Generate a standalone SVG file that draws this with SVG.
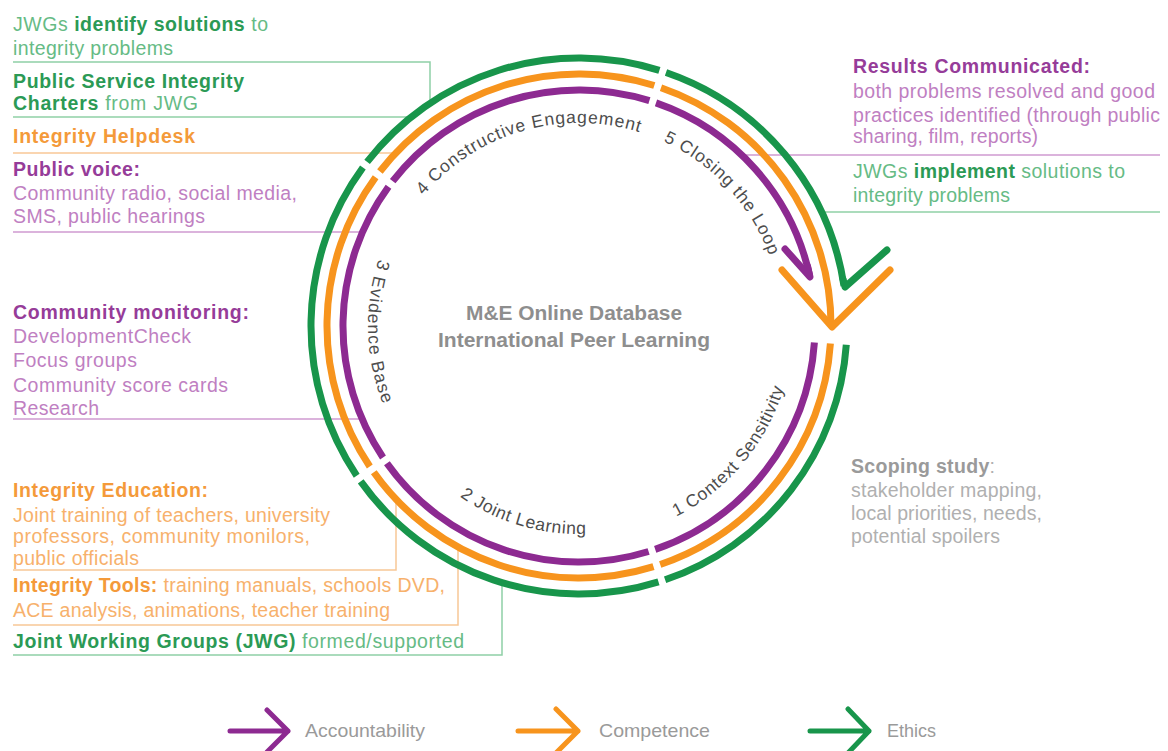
<svg xmlns="http://www.w3.org/2000/svg" width="1168" height="751" viewBox="0 0 1168 751">
<style>
.t{font-family:"Liberation Sans",Arial,sans-serif;font-size:19.5px}
.b{font-weight:bold}
.gn{fill:#66bb85}.gb{fill:#2b9a55}
.on{fill:#f7b16c}.ob{fill:#f49a3a}
.pn{fill:#c07fc2}.pb{fill:#963c99}
.yn{fill:#b0b0b0}.yb{fill:#9a9a9a}
.ring{fill:none;stroke-width:7}
.P{stroke:#8d2a91}.O{stroke:#f7941d}.G{stroke:#18954b}
.head{fill:none;stroke-width:7;stroke-linecap:round;stroke-linejoin:round}
.lead{fill:none;stroke-width:1.5}
.lg{stroke:#8fd0a6}.lo{stroke:#f8c796}.lp{stroke:#cf9ad1}
.arc{font-family:"Liberation Sans",Arial,sans-serif;font-size:17.5px;fill:#4d4d4d}
.ctr{font-family:"Liberation Sans",Arial,sans-serif;font-size:20px;font-weight:bold;fill:#8e8e8e}
.leg{font-family:"Liberation Sans",Arial,sans-serif;font-size:19px;fill:#9a9a9a}
.la{fill:none;stroke-width:5;stroke-linecap:round;stroke-linejoin:round}
</style>
<defs>
<path id="p4" d="M423.5,195.5 A203,203 0 0 1 645.1,134.1"/>
<path id="p5" d="M663.2,141.3 A203,203 0 0 1 772.1,263.3"/>
<path id="p3" d="M378.9,259.0 A211,211 0 0 0 386.2,411.8"/>
<path id="p2" d="M459.7,496.4 A208,208 0 0 0 593.5,533.5"/>
<path id="p1" d="M676.2,516.7 A214,214 0 0 0 785.7,381.4"/>
</defs>

<g id="connectors">
<path class="lead lg" d="M13,62 H430 V104"/>
<path class="lead lg" d="M13,117 H412"/>
<path class="lead lo" d="M13,153 H396"/>
<path class="lead lp" d="M13,232 H363"/>
<path class="lead lp" d="M13,419 H362"/>
<path class="lead lo" d="M13,570 H396 V499"/>
<path class="lead lo" d="M13,625 H458 V547"/>
<path class="lead lg" d="M13,655 H502 V583"/>
<path class="lead lp" d="M742,155 H1160"/>
<path class="lead lg" d="M822,212 H1160"/>
</g>

<g id="ring-ethics">
<path class="ring G" d="M666.0,72.5 A268,268 0 0 1 844.0,285.9"/>
<path class="ring G" d="M846.3,344.7 A268,268 0 0 1 665.1,579.8"/>
<path class="ring G" d="M658.5,581.9 A268,268 0 0 1 360.7,481.4"/>
<path class="ring G" d="M356.7,475.7 A268,268 0 0 1 362.9,167.5"/>
<path class="ring G" d="M367.1,161.9 A268,268 0 0 1 659.4,70.3"/>
<path class="head G" d="M887,250 L845,287 L843,279"/>
</g>
<g id="ring-competence">
<path class="ring O" d="M661.0,87.7 A252,252 0 0 1 831,326"/>
<path class="ring O" d="M830.4,343.6 A252,252 0 0 1 660.2,564.5"/>
<path class="ring O" d="M653.5,566.7 A252,252 0 0 1 373.8,472.3"/>
<path class="ring O" d="M369.8,466.5 A252,252 0 0 1 375.6,177.2"/>
<path class="ring O" d="M379.9,171.5 A252,252 0 0 1 654.3,85.5"/>
<path class="head O" d="M782,270 L832,327 L890,270"/>
</g>
<g id="ring-accountability">
<path class="ring P" d="M656.0,102.9 A236,236 0 0 1 809.7,276.1"/>
<path class="ring P" d="M814.4,342.5 A236,236 0 0 1 655.2,549.4"/>
<path class="ring P" d="M648.6,551.5 A236,236 0 0 1 386.9,463.2"/>
<path class="ring P" d="M383.0,457.5 A236,236 0 0 1 388.5,186.7"/>
<path class="ring P" d="M392.7,181.2 A236,236 0 0 1 649.4,100.7"/>
<path class="head P" d="M785,249 L810,277 L807.5,266"/>
</g>

<g id="stage-labels">
<text class="arc"><textPath href="#p4" textLength="238" lengthAdjust="spacing">4 Constructive Engagement</textPath></text>
<text class="arc"><textPath href="#p5" textLength="160" lengthAdjust="spacing">5 Closing the Loop</textPath></text>
<text class="arc"><textPath href="#p3" textLength="148" lengthAdjust="spacing">3 Evidence Base</textPath></text>
<text class="arc"><textPath href="#p2" textLength="134" lengthAdjust="spacing">2 Joint Learning</textPath></text>
<text class="arc"><textPath href="#p1" textLength="172" lengthAdjust="spacing">1 Context Sensitivity</textPath></text>
</g>

<g id="center">
<text class="ctr" x="574" y="320" text-anchor="middle" textLength="216" lengthAdjust="spacingAndGlyphs">M&amp;E Online Database</text>
<text class="ctr" x="574" y="347" text-anchor="middle" textLength="272" lengthAdjust="spacingAndGlyphs">International Peer Learning</text>
</g>

<g id="jwg-identify">
<text class="t gn" x="13" y="31" textLength="255">JWGs <tspan class="b gb">identify solutions</tspan> to</text>
<text class="t gn" x="13" y="55" textLength="160">integrity problems</text>
</g>
<g id="charters">
<text class="t b gb" x="13" y="88" textLength="231">Public Service Integrity</text>
<text class="t gn" x="13" y="110" textLength="185"><tspan class="b gb">Charters</tspan> from JWG</text>
</g>
<g id="helpdesk">
<text class="t b ob" x="13" y="143" textLength="182">Integrity Helpdesk</text>
</g>
<g id="public-voice">
<text class="t b pb" x="13" y="176" textLength="127">Public voice:</text>
<text class="t pn" x="13" y="200" textLength="284">Community radio, social media,</text>
<text class="t pn" x="13" y="223" textLength="192">SMS, public hearings</text>
</g>
<g id="community-monitoring">
<text class="t b pb" x="13" y="319" textLength="236">Community monitoring:</text>
<text class="t pn" x="13" y="343" textLength="178">DevelopmentCheck</text>
<text class="t pn" x="13" y="367" textLength="124">Focus groups</text>
<text class="t pn" x="13" y="392" textLength="215">Community score cards</text>
<text class="t pn" x="13" y="415" textLength="86">Research</text>
</g>
<g id="integrity-education">
<text class="t b ob" x="13" y="497" textLength="195">Integrity Education:</text>
<text class="t on" x="13" y="522" textLength="317">Joint training of teachers, university</text>
<text class="t on" x="13" y="543" textLength="297">professors, community monilors,</text>
<text class="t on" x="13" y="565" textLength="126">public officials</text>
</g>
<g id="integrity-tools">
<text class="t on" x="13" y="592" textLength="432"><tspan class="b ob">Integrity Tools:</tspan> training manuals, schools DVD,</text>
<text class="t on" x="13" y="617" textLength="377">ACE analysis, animations, teacher training</text>
</g>
<g id="jwg-formed">
<text class="t gn" x="13" y="648" textLength="451"><tspan class="b gb">Joint Working Groups (JWG)</tspan> formed/supported</text>
</g>
<g id="results">
<text class="t b pb" x="853" y="73" textLength="237">Results Communicated:</text>
<text class="t pn" x="853" y="98" textLength="302">both problems resolved and good</text>
<text class="t pn" x="853" y="122" textLength="307">practices identified (through public</text>
<text class="t pn" x="853" y="143" textLength="185">sharing, film, reports)</text>
</g>
<g id="jwg-implement">
<text class="t gn" x="853" y="178" textLength="272">JWGs <tspan class="b gb">implement</tspan> solutions to</text>
<text class="t gn" x="853" y="202" textLength="157">integrity problems</text>
</g>
<g id="scoping">
<text class="t yn" x="851" y="473" textLength="144"><tspan class="b yb">Scoping study</tspan>:</text>
<text class="t yn" x="851" y="497" textLength="191">stakeholder mapping,</text>
<text class="t yn" x="851" y="520" textLength="191">local priorities, needs,</text>
<text class="t yn" x="851" y="543" textLength="149">potential spoilers</text>
</g>

<g id="legend">
<path class="la P" d="M230,731 H288 M267,710 L288,731 L267,752"/>
<text class="leg" x="305" y="737" textLength="120" lengthAdjust="spacingAndGlyphs">Accountability</text>
<path class="la O" d="M518,731 H578 M556,709 L578,731 L556,753"/>
<text class="leg" x="599" y="737" textLength="111" lengthAdjust="spacingAndGlyphs">Competence</text>
<path class="la G" d="M810,731 H869 M848,709 L869,731 L848,753"/>
<text class="leg" x="887" y="737" textLength="49" lengthAdjust="spacingAndGlyphs">Ethics</text>
</g>
</svg>
